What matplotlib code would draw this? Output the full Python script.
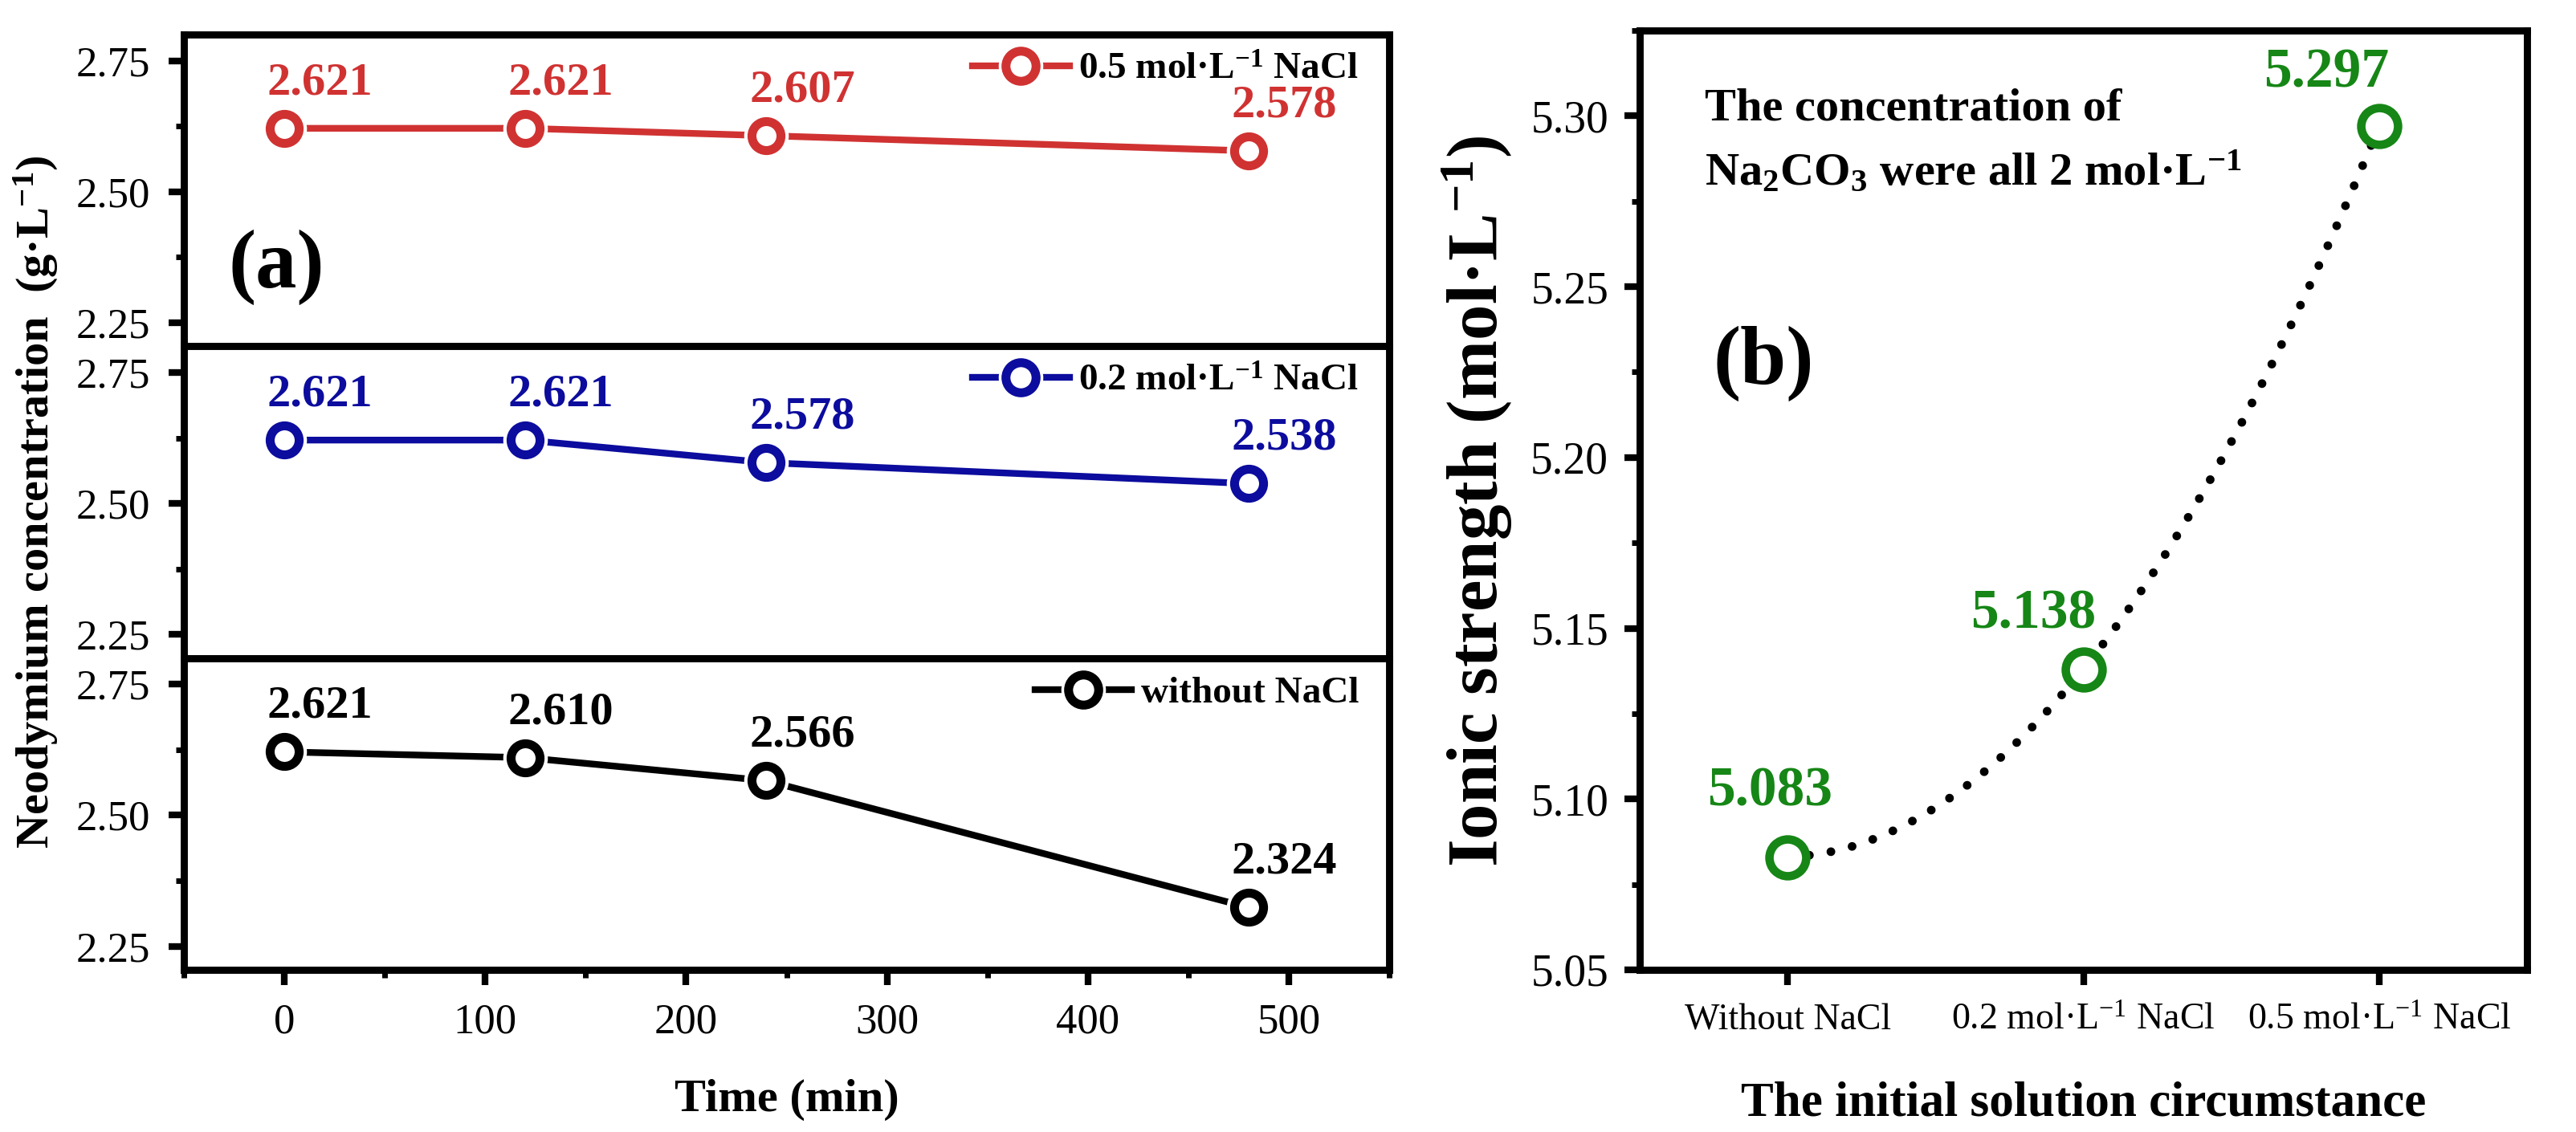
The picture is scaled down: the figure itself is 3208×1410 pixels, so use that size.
import numpy as np
import matplotlib
matplotlib.use("Agg")
import matplotlib.pyplot as plt
from matplotlib.lines import Line2D
from matplotlib.path import Path
from matplotlib.patches import PathPatch
from matplotlib.ticker import MultipleLocator, FormatStrFormatter

plt.rcParams['font.family'] = ['Liberation Serif', 'DejaVu Serif']
plt.rcParams['mathtext.fontset'] = 'custom'
plt.rcParams['mathtext.rm'] = 'Liberation Serif'
plt.rcParams['mathtext.bf'] = 'Liberation Serif:bold'
plt.rcParams['mathtext.default'] = 'regular'

# (a) neodymium concentration vs time
time_min = [0, 120, 240, 480]
nd_nacl_05 = [2.621, 2.621, 2.607, 2.578]
nd_nacl_02 = [2.621, 2.621, 2.578, 2.538]
nd_no_nacl = [2.621, 2.610, 2.566, 2.324]
series_names = ['0.5 mol·L$^{-1}$ NaCl', '0.2 mol·L$^{-1}$ NaCl', 'without NaCl']

# (b) ionic strength per solution
conditions = ['Without NaCl', '0.2 mol·L$^{-1}$ NaCl', '0.5 mol·L$^{-1}$ NaCl']
ionic_strength = [5.083, 5.138, 5.297]

RED = '#d03232'
BLUE = '#0c0c9e'
BLACK = '#000000'
GREEN = '#168616'

SPINE_W = 3.2


def style_axes(ax):
    for sp in ax.spines.values():
        sp.set_linewidth(SPINE_W)
    ax.tick_params(which='major', direction='out', length=7, width=3, pad=8)
    ax.tick_params(which='minor', direction='out', length=3.6, width=2.5)
    ax.tick_params(top=False, right=False, which='both')


W, H = 3208, 1410
fig = plt.figure(figsize=(W / 200, H / 200), dpi=200)

# ---- panel (a): three stacked panels ----
a_left, a_right, a_top, a_bot = 229, 1730, 43, 1208
ph = (a_bot - a_top) / 3
axes_a = []
for i in range(3):
    top = a_top + i * ph
    ax = fig.add_axes([a_left / W, 1 - (top + ph) / H, (a_right - a_left) / W, ph / H])
    axes_a.append(ax)

data_a = [nd_nacl_05, nd_nacl_02, nd_no_nacl]
colors_a = [RED, BLUE, BLACK]

for ax, vals, col, name in zip(axes_a, data_a, colors_a, series_names):
    style_axes(ax)
    ax.plot(time_min, vals, color=col, lw=3, zorder=2, solid_capstyle='round')
    ax.plot(time_min, vals, 'o', ms=20, mfc='white', mec='white', mew=0, zorder=3)
    ax.plot(time_min, vals, 'o', ms=13, mfc='white', mec=col, mew=4, zorder=4)
    for t, v in zip(time_min, vals):
        ax.annotate(f'{v:.3f}', (t, v), xytext=(16, 11), textcoords='offset points',
                    ha='center', va='bottom', color=col, fontsize=21, fontweight='bold')
    ax.set_xlim(-50, 550)
    ax.set_ylim(2.205, 2.80)
    ax.set_yticks([2.25, 2.50, 2.75])
    ax.yaxis.set_minor_locator(MultipleLocator(0.125))
    ax.set_yticklabels(['2.25', '2.50', '2.75'], fontsize=19)

    h_line = Line2D([], [], color=col, lw=3)
    h_gap = Line2D([], [], ls='none', marker='o', ms=20, mfc='white', mec='white', mew=0)
    h_mark = Line2D([], [], ls='none', marker='o', ms=13.5, mfc='white', mec=col, mew=4)
    ax.legend([(h_line, h_gap, h_mark)], [name], loc='center right',
              bbox_to_anchor=(0.975, 0.887), frameon=False, borderpad=0,
              borderaxespad=0, handlelength=2.55, handletextpad=0.25,
              prop={'size': 17, 'weight': 'bold'})

for ax in axes_a[:2]:
    ax.tick_params(axis='x', which='both', bottom=False, labelbottom=False)

ax_bot = axes_a[2]
ax_bot.xaxis.set_major_locator(MultipleLocator(100))
ax_bot.xaxis.set_minor_locator(MultipleLocator(50))
ax_bot.tick_params(axis='x', labelsize=19)

axes_a[0].text(0.0766, 0.2526, '(a)', transform=axes_a[0].transAxes, ha='center',
               va='center', fontsize=37, fontweight='bold')

fig.text(45 / W, 1 - 625 / H, 'Neodymium concentration  (g·L$^{-1}$)', rotation=90,
         ha='center', va='center', fontsize=21, fontweight='bold')
fig.text((a_left + a_right) / 2 / W, 1 - 1370 / H, 'Time (min)', ha='center',
         va='center', fontsize=21, fontweight='bold')

# ---- panel (b) ----
b_left, b_right, b_top, b_bot = 2042, 3147, 38, 1208
axb = fig.add_axes([b_left / W, 1 - b_bot / H, (b_right - b_left) / W, (b_bot - b_top) / H])
style_axes(axb)
xb = np.arange(len(conditions))

# smooth dotted connector: quadratic bezier through the three points
ctrl = 2 * ionic_strength[1] - (ionic_strength[0] + ionic_strength[2]) / 2
path = Path([(xb[0], ionic_strength[0]), (xb[1], ctrl), (xb[2], ionic_strength[2])],
            [Path.MOVETO, Path.CURVE3, Path.CURVE3])
axb.add_patch(PathPatch(path, fill=False, color='black', lw=3.9,
                        linestyle=(0, (0.01, 2.5)), capstyle='round', zorder=2))
axb.plot(xb, ionic_strength, 'o', ms=16.5, mfc='white', mec=GREEN, mew=3.8, zorder=4)

b_offsets = [(-8, 17.5), (-22.5, 13), (-23.5, 12)]
for x, v, off in zip(xb, ionic_strength, b_offsets):
    axb.annotate(f'{v:.3f}', (x, v), xytext=off, textcoords='offset points',
                 ha='center', va='bottom', color=GREEN, fontsize=25, fontweight='bold')

axb.set_xlim(-0.5, 2.5)
axb.set_ylim(5.05, 5.325)
axb.set_xticks(xb)
axb.set_xticklabels(conditions, fontsize=16.5)
axb.yaxis.set_major_locator(MultipleLocator(0.05))
axb.yaxis.set_minor_locator(MultipleLocator(0.025))
axb.yaxis.set_major_formatter(FormatStrFormatter('%.2f'))
axb.tick_params(axis='y', labelsize=20, pad=7)

axb.text(0.073, 0.905, 'The concentration of', transform=axb.transAxes,
         ha='left', va='baseline', fontsize=21, fontweight='bold')
axb.text(0.073, 0.836, 'Na$_2$CO$_3$ were all 2 mol·L$^{-1}$', transform=axb.transAxes,
         ha='left', va='baseline', fontsize=21, fontweight='bold')
axb.text(0.1398, 0.6454, '(b)', transform=axb.transAxes, ha='center', va='center',
         fontsize=37, fontweight='bold')

fig.text(1840 / W, 1 - 624 / H, 'Ionic strength (mol·L$^{-1}$)', rotation=90,
         ha='center', va='center', fontsize=32, fontweight='bold')
fig.text((b_left + b_right) / 2 / W, 1 - 1374 / H, 'The initial solution circumstance',
         ha='center', va='center', fontsize=22, fontweight='bold')

fig.savefig('out.png', dpi=200)
